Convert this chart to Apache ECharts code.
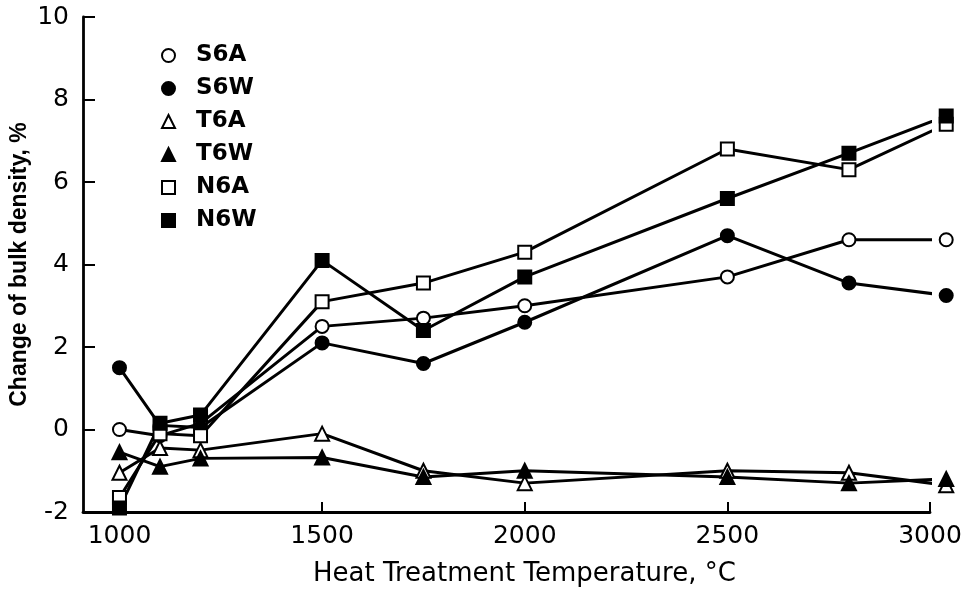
<!DOCTYPE html>
<html>
<head>
<meta charset="utf-8">
<script src="https://cdn.jsdelivr.net/npm/echarts@6/dist/echarts.min.js"></script>
<style>
  html, body { margin: 0; padding: 0; background: #fff; }
  #chart { width: 978px; height: 599px; }
</style>
</head>
<body>
<div id="chart"></div>
<script>
// heat treatment temperatures (°C)
var temps = [1000, 1100, 1200, 1500, 1750, 2000, 2500, 2800, 3040];
var xTicks = [1000, 1500, 2000, 2500, 3000];

// change of bulk density, %
var S6A = [0, -0.15, 0.15, 2.5, 2.7, 3.0, 3.7, 4.6, 4.6];
var S6W = [1.5, 0.1, 0.05, 2.1, 1.6, 2.6, 4.7, 3.55, 3.25];
var T6A = [-1.05, -0.45, -0.5, -0.1, -1.0, -1.3, -1.0, -1.05, -1.35];
var T6W = [-0.55, -0.9, -0.7, -0.68, -1.15, -1.0, -1.15, -1.3, -1.2];
var N6A = [-1.65, -0.1, -0.15, 3.1, 3.55, 4.3, 6.8, 6.3, 7.4];
var N6W = [-1.9, 0.15, 0.35, 4.1, 2.4, 3.7, 5.6, 6.7, 7.6];

var myChart = echarts.init(document.getElementById('chart'));

function pairs(vals) {
    return temps.map(function(t, i) { return [t, vals[i]]; });
}

function makeSeries(name, vals, symbol, filled) {
    return {
        name: name,
        type: 'line',
        data: pairs(vals),
        clip: false,
        symbol: symbol,
        symbolSize: symbol === 'triangle' ? 14 : 13,
        showAllSymbol: true,
        lineStyle: { color: '#000', width: 3 },
        itemStyle: {
            color: filled ? '#000' : '#fff',
            borderColor: '#000',
            borderWidth: 2
        },
        emphasis: { disabled: true }
    };
}

var font = 'DejaVu Sans';

option = {
    animation: false,
    backgroundColor: '#fff',
    grid: { left: 83, right: 48, top: 17, bottom: 87, outerBoundsMode: 'none' },
    legend: {
        orient: 'vertical',
        left: 156,
        top: 39,
        itemWidth: 13,
        itemHeight: 13,
        itemGap: 10,
        textStyle: { fontFamily: font, fontSize: 23, fontWeight: 'bold', color: '#000', padding: [0, 0, 0, 16] },
        data: [
            { name: 'S6A', icon: 'circle' },
            { name: 'S6W', icon: 'circle' },
            { name: 'T6A', icon: 'triangle' },
            { name: 'T6W', icon: 'triangle' },
            { name: 'N6A', icon: 'rect' },
            { name: 'N6W', icon: 'rect' }
        ]
    },
    xAxis: {
        type: 'value',
        min: 910,
        max: 3000,
        splitLine: { show: false },
        axisLine: { onZero: false, lineStyle: { color: '#000', width: 2.8 } },
        axisTick: { inside: true, length: 10, lineStyle: { color: '#000', width: 2 }, customValues: xTicks },
        axisLabel: {
            customValues: xTicks, margin: 12, fontFamily: font, fontSize: 25, color: '#000',
            formatter: function(v) { return String(v); }
        }
    },
    yAxis: {
        type: 'value',
        min: -2,
        max: 10,
        interval: 2,
        name: 'Change of bulk density, %',
        nameLocation: 'middle',
        nameGap: 52,
        nameMoveOverlap: false,
        nameTextStyle: { fontFamily: 'Liberation Sans', fontSize: 23, fontWeight: 'bold', color: '#000' },
        splitLine: { show: false },
        axisLine: { lineStyle: { color: '#000', width: 2.8 } },
        axisTick: { inside: true, length: 12, lineStyle: { color: '#000', width: 2 } },
        axisLabel: { margin: 14, fontFamily: font, fontSize: 25, color: '#000' }
    },
    graphic: [{
        type: 'text',
        left: 313,
        top: 561,
        style: {
            text: 'Heat Treatment Temperature, °C',
            fontFamily: font,
            fontSize: 26,
            fill: '#000'
        }
    }],
    series: [
        makeSeries('S6A', S6A, 'circle', false),
        makeSeries('S6W', S6W, 'circle', true),
        makeSeries('T6A', T6A, 'triangle', false),
        makeSeries('T6W', T6W, 'triangle', true),
        makeSeries('N6A', N6A, 'rect', false),
        makeSeries('N6W', N6W, 'rect', true)
    ]
};

myChart.setOption(option);
</script>
</body>
</html>
